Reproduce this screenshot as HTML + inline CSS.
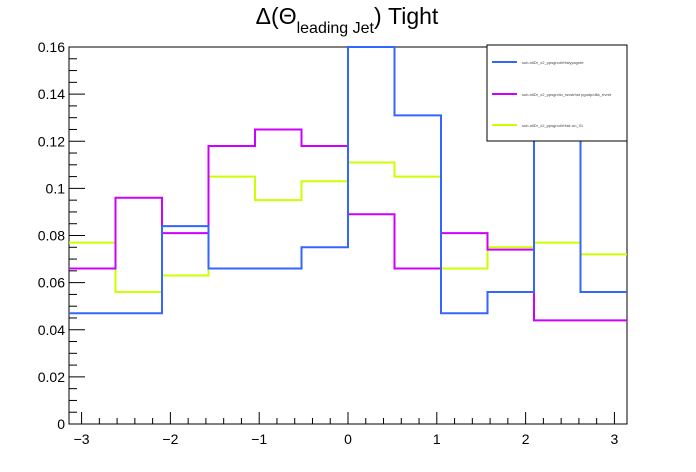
<!DOCTYPE html>
<html><head><meta charset="utf-8"><style>
body{margin:0;background:#fff;}
svg{display:block;font-family:"Liberation Sans",sans-serif;}
</style></head><body>
<svg id="c" width="696" height="472"></svg>
<script>
const binCount = 12;
const blueVals = [0.047,0.047,0.084,0.066,0.066,0.075,0.160,0.131,0.047,0.056,0.130,0.056];
const magentaVals = [0.066,0.096,0.081,0.118,0.125,0.118,0.089,0.066,0.081,0.074,0.044,0.044];
const yellowVals = [0.077,0.056,0.063,0.105,0.095,0.103,0.111,0.105,0.066,0.075,0.077,0.072];
const yTicks = [0,0.02,0.04,0.06,0.08,0.1,0.12,0.14,0.16];
const yTickLabels = ["0","0.02","0.04","0.06","0.08","0.1","0.12","0.14","0.16"];
const xTicks = [-3,-2,-1,0,1,2,3];
const xTickLabels = ["\u22123","\u22122","\u22121","0","1","2","3"];
const legendLabels = ["sub-nllDr_x2_ppsgrcd/rHalyyagrde","sub-nllDr_x2_ppsgrcllo_rsvstrhst pgudp/dlla_rrvret","sub-nllDr_x2_ppsgrcd/rHalr-un_01"];
const NS="http://www.w3.org/2000/svg";
const svg=document.getElementById('c');
const L=69,R=627,T=47,B=424,xmin=-Math.PI,xmax=Math.PI,ymax=0.16;
const X=v=>L+(v-xmin)/(xmax-xmin)*(R-L);
const Y=v=>B-v/ymax*(B-T);
function mk(t,a){const e=document.createElementNS(NS,t);for(const k in a)e.setAttribute(k,a[k]);svg.appendChild(e);return e;}
let e;
e=mk('rect',{x:L,y:T,width:R-L,height:B-T,fill:'none',stroke:'#000','stroke-width':1});


// y ticks
for(let v=0;v<=0.16001;v+=0.005){const major=Math.abs(v/0.02-Math.round(v/0.02))<1e-6;
e=mk('line',{x1:L,x2:L+(major?16:8),y1:Y(v),y2:Y(v),stroke:'#000'});

}
yTicks.forEach((v,i)=>{e=mk('text',{x:L-4,y:Y(v)+5,'text-anchor':'end','font-size':14});e.textContent=yTickLabels[i];

});
// x ticks
for(let k=-15;k<=15;k++){const v=k*0.2;const major=k%5===0;
e=mk('line',{x1:X(v),x2:X(v),y1:B,y2:B-(major?12:6),stroke:'#000'});

}
xTicks.forEach((v,i)=>{e=mk('text',{x:X(v),y:B+20,'text-anchor':'middle','font-size':14});e.textContent=xTickLabels[i];

});
function hist(vals,color,name){const w=(xmax-xmin)/binCount;let d='';
vals.forEach((v,i)=>{const x0=X(xmin+i*w),x1=X(xmin+(i+1)*w),y=Y(Math.min(v,ymax));
d+=(i===0?'M':'L')+x0+','+y+'L'+x1+','+y;});
e=mk('path',{d:d,fill:'none',stroke:color,'stroke-width':2});

}
hist(yellowVals,'#ccff00','series-yellow');
hist(magentaVals,'#cc00ff','series-magenta');
hist(blueVals,'#3366ff','series-blue');
// legend
e=mk('rect',{x:487,y:45,width:140,height:96,fill:'#fff',stroke:'#000'});


const cols=['#3366ff','#cc00ff','#ccff00'];const ly=[62,94,125];
legendLabels.forEach((s,i)=>{
e=mk('line',{x1:492,x2:517,y1:ly[i],y2:ly[i],stroke:cols[i],'stroke-width':2});


e=mk('text',{x:522,y:ly[i]+2,'font-size':4,fill:'#444'});e.textContent=s;

});
// title
e=mk('text',{x:347,y:24,'text-anchor':'middle','font-size':23});
e.innerHTML='Δ(Θ<tspan font-size="16" dy="9">leading Jet</tspan><tspan dy="-9">) Tight</tspan>';


</script>
</body></html>
